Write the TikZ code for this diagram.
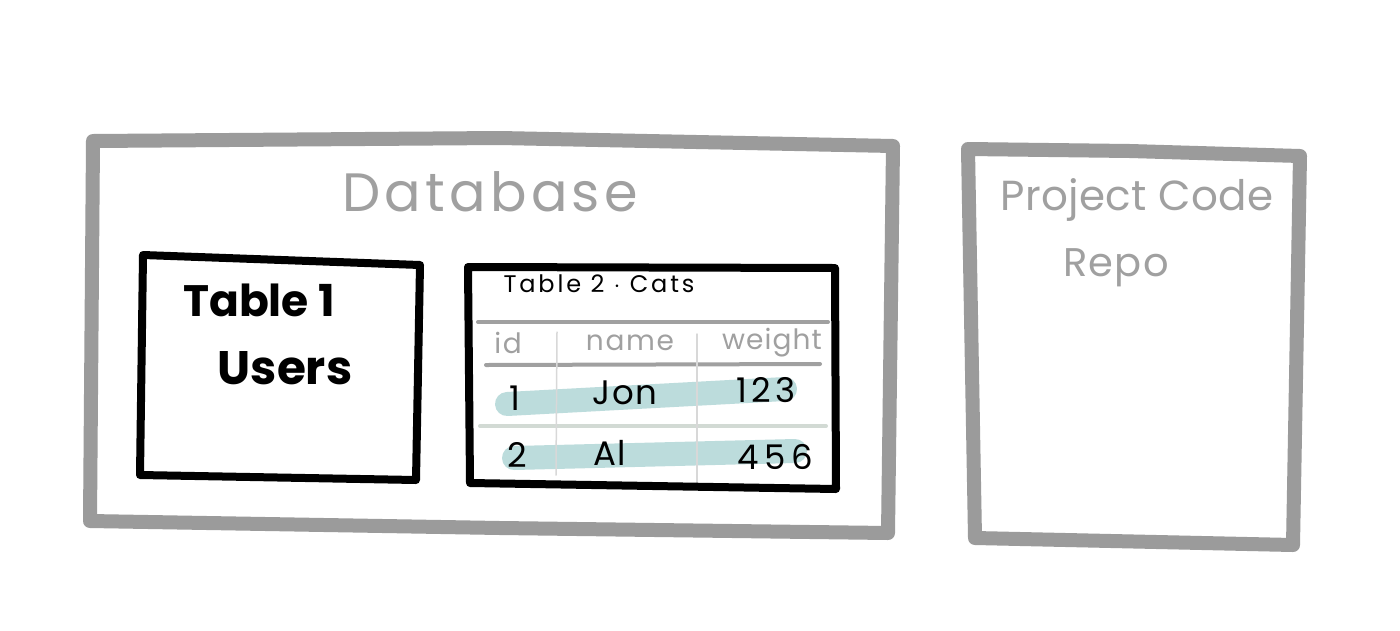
\documentclass[tikz,border=0pt]{standalone}
\usepackage{fontspec}
\setmainfont{Poppins}
\definecolor{boxgray}{HTML}{9B9B9B}
\definecolor{txtgray}{HTML}{A0A0A0}
\definecolor{hl}{HTML}{BCDCDC}
\definecolor{sep}{HTML}{D2DAD4}
\definecolor{vsep}{HTML}{D8D8D8}
\newcommand{\spaced}[1]{\addfontfeatures{LetterSpace=#1}}
\begin{document}
\begin{tikzpicture}[x=1pt,y=-1pt,line cap=round,line join=round,
  outerbox/.style={draw=boxgray,line width=14pt},
  innerbox/.style={draw=black,line width=8pt},
  graytxt/.style={text=txtgray,inner sep=0pt},
  blacktxt/.style={text=black,inner sep=0pt},
  rule/.style={draw=txtgray,line width=4pt},
  vrule/.style={draw=vsep,line width=1.5pt},
  highlight/.style={draw=hl,line width=24pt}]
\useasboundingbox (0,0) rectangle (1400,630);
\fill[white] (0,0) rectangle (1400,630);
% Database box
\draw[outerbox] (93,141) -- (500,138) -- (893,146) -- (888,533) -- (500,528) -- (90,521) -- cycle;
\node[graytxt,font=\fontsize{54}{60}\selectfont\spaced{8}] (db) at (490,192) {Database};
% Repo box
\draw[outerbox] (968,149) -- (1130,151) -- (1300,156) -- (1293,545) -- (975,538) -- cycle;
\node[graytxt,font=\fontsize{42}{48}\selectfont\spaced{1}] (pc) at (1137,200) {Project Code};
\node[graytxt,font=\fontsize{40}{46}\selectfont\spaced{3}] (repo) at (1116,268) {Repo};
% Table 1
\draw[innerbox] (143,255) -- (420,265) -- (416,480) -- (140,475) -- cycle;
\node[blacktxt,font=\bfseries\fontsize{44}{48}\selectfont] (t1) at (259,300) {Table 1};
\node[blacktxt,font=\bfseries\fontsize{47}{52}\selectfont] (users) at (285,368) {Users};
% Table 2
\draw[highlight] (507,404) -- (785,389);
\draw[highlight] (514,458) -- (795,451);
\draw[rule] (478,322) -- (828,322);
\draw[rule] (486,365) -- (820,364);
\draw[draw=sep,line width=4pt] (480,426) -- (826,426);
\draw[vrule] (557,332) -- (556,475);
\draw[vrule] (697,334) -- (697,483);
\draw[innerbox] (468,267) -- (835,268) -- (836,489) -- (470,483) -- cycle;
\node[blacktxt,font=\fontsize{24}{28}\selectfont\spaced{12}] (t2) at (599,284) {Table 2 $\cdot$ Cats};
\node[graytxt,font=\fontsize{28}{32}\selectfont\spaced{6}] (hid) at (508,343) {id};
\node[graytxt,font=\fontsize{28}{32}\selectfont\spaced{6}] (hname) at (630,343) {name};
\node[graytxt,font=\fontsize{28}{32}\selectfont\spaced{4}] (hweight) at (772,343) {weight};
\node[blacktxt,font=\fontsize{34}{38}\selectfont] (r1id) at (515,398) {1};
\node[blacktxt,font=\fontsize{34}{38}\selectfont\spaced{4}] (r1name) at (625,393) {Jon};
\node[blacktxt,font=\fontsize{34}{38}\selectfont\spaced{12}] (r1w) at (766,390) {123};
\node[blacktxt,font=\fontsize{34}{38}\selectfont] (r2id) at (517,455) {2};
\node[blacktxt,font=\fontsize{34}{38}\selectfont\spaced{4}] (r2name) at (610,453) {Al};
\node[blacktxt,font=\fontsize{34}{38}\selectfont\spaced{16}] (r2w) at (775,457) {456};
\end{tikzpicture}
\end{document}
